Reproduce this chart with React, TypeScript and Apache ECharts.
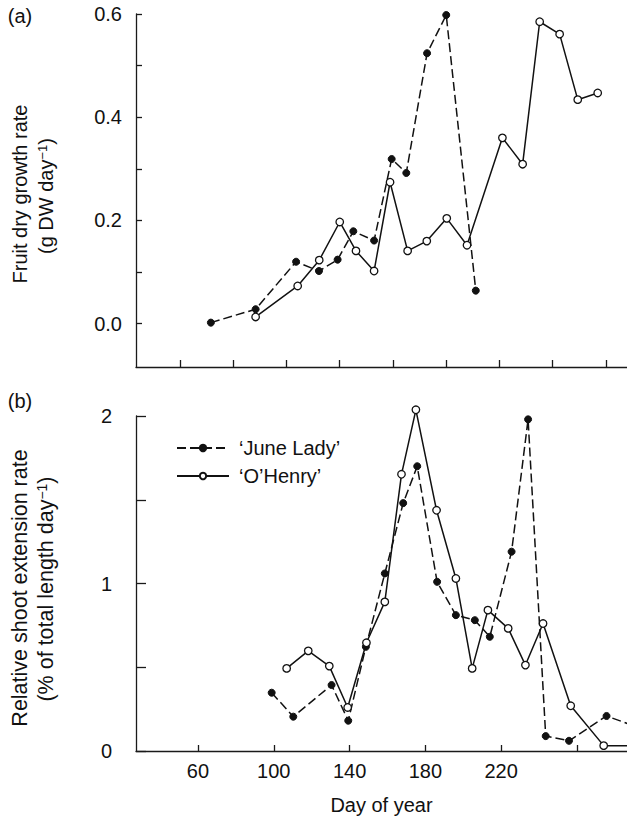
import React, { useEffect, useRef } from 'react';
import * as echarts from 'echarts';

const FONT = '"Liberation Sans", Arial, Helvetica, sans-serif';

// Panel (a): fruit dry growth rate (g DW day-1)
const topDaysJune = [71.6, 88.4, 103.6, 112.2, 119.2, 125.1, 132.9, 139.5, 145.0, 152.8, 160.0, 171.1];
const topRateJune = [0.002, 0.028, 0.12, 0.102, 0.124, 0.179, 0.161, 0.319, 0.292, 0.524, 0.598, 0.064];
const topDaysOHenry = [88.4, 104.2, 112.3, 120.0, 126.1, 132.9, 138.9, 145.5, 152.7, 160.2, 167.8, 181.1, 188.7, 195.1, 202.6, 209.4, 216.9];
const topRateOHenry = [0.013, 0.073, 0.123, 0.197, 0.141, 0.102, 0.274, 0.141, 0.16, 0.204, 0.152, 0.36, 0.309, 0.585, 0.561, 0.434, 0.447];

// Panel (b): relative shoot extension rate (% of total length day-1)
const botDaysJune = [98.9, 110.3, 130.5, 139.3, 148.6, 158.6, 168.3, 175.7, 186.2, 196.1, 206.1, 214.0, 225.5, 234.2, 243.5, 255.8, 275.6, 290];
const botRateJune = [0.348, 0.205, 0.394, 0.181, 0.622, 1.06, 1.48, 1.7, 1.01, 0.811, 0.781, 0.682, 1.19, 1.98, 0.089, 0.061, 0.209, 0.15];
const botDaysOHenry = [106.8, 118.2, 129.3, 139.0, 148.9, 158.6, 167.4, 175.0, 185.9, 196.1, 204.7, 213.0, 223.7, 232.8, 242.1, 256.7, 274.1, 290];
const botRateOHenry = [0.493, 0.598, 0.507, 0.26, 0.646, 0.89, 1.652, 2.037, 1.437, 1.03, 0.493, 0.841, 0.732, 0.513, 0.761, 0.27, 0.032, 0.032];

// Ticks
const topXTicks = [60, 80, 100, 120, 140, 160, 180, 200, 220];
const topYTicks = [0, 0.1, 0.2, 0.3, 0.4, 0.5, 0.6];
const topYLabels = [0, 0.2, 0.4, 0.6];
const botXTicks = [60, 100, 140, 180, 220, 260];
const botXLabels = [60, 100, 140, 180, 220];
const botYTicks = [0, 0.5, 1, 1.5, 2];
const botYLabels = [0, 1, 2];

const NAME_JUNE = '\u2018June Lady\u2019';
const NAME_OH = '\u2018O\u2019Henry\u2019';

const zip = (xs: number[], ys: number[]) => xs.map((x, i) => [x, ys[i]]);

export default function App() {
  const ref = useRef<HTMLDivElement>(null);
  useEffect(() => {
    document.body.style.margin = '0';
    const chart = echarts.init(ref.current!, null, { renderer: 'svg' });
    const axisColor = '#1a1a1a';
    const lbl = { fontFamily: FONT, fontSize: 20, color: '#111' };
    const dashed = { color: '#111', width: 1.5, type: [9, 4] as any };
    const solid = { color: '#111', width: 1.5, type: 'solid' as any };
    const filled = { color: '#111', borderColor: '#111', borderWidth: 1 };
    const open = { color: '#fff', borderColor: '#111', borderWidth: 1.3 };

    const option: any = {
      animation: false,
      backgroundColor: '#fff',
      grid: [
        { left: 136, right: 0, top: 14, height: 353, outerBoundsMode: 'none' },
        { left: 136, right: 0, top: 416, height: 335, outerBoundsMode: 'none' },
      ],
      xAxis: [
        {
          type: 'value', gridIndex: 0, min: 43.47, max: 227.9,
          axisLine: { show: true, onZero: false, lineStyle: { color: axisColor, width: 1.3 } },
          axisTick: { show: true, inside: true, length: 7, customValues: topXTicks, lineStyle: { color: axisColor, width: 1.3 } },
          axisLabel: { show: false },
          splitLine: { show: false },
        },
        {
          type: 'value', gridIndex: 1, min: 27.3, max: 286.4,
          axisLine: { show: true, onZero: false, lineStyle: { color: axisColor, width: 1.3 } },
          axisTick: { show: true, inside: true, length: 6, customValues: botXTicks, lineStyle: { color: axisColor, width: 1.3 } },
          axisLabel: { ...lbl, margin: 10, customValues: botXLabels },
          splitLine: { show: false },
          name: 'Day of year', nameLocation: 'middle', nameGap: 44,
          nameTextStyle: { fontFamily: FONT, fontSize: 20, color: '#111' },
        },
      ],
      yAxis: [
        {
          type: 'value', gridIndex: 0, min: -0.084, max: 0.6,
          axisLine: { show: true, onZero: false, lineStyle: { color: axisColor, width: 1.3 } },
          axisTick: { show: true, inside: true, length: 6, customValues: topYTicks, lineStyle: { color: axisColor, width: 1.3 } },
          axisLabel: { ...lbl, margin: 14, customValues: topYLabels, formatter: (v: number) => v.toFixed(1) },
          splitLine: { show: false },
        },
        {
          type: 'value', gridIndex: 1, min: 0, max: 2,
          axisLine: { show: true, onZero: false, lineStyle: { color: axisColor, width: 1.3 } },
          axisTick: { show: true, inside: true, length: 10, customValues: botYTicks, lineStyle: { color: axisColor, width: 1.3 } },
          axisLabel: { ...lbl, margin: 24, customValues: botYLabels, formatter: (v: number) => String(v) },
          splitLine: { show: false },
        },
      ],
      legend: {
        orient: 'vertical', left: 171, top: 433,
        itemWidth: 52, itemHeight: 8, itemGap: 8,
        data: [NAME_JUNE, NAME_OH],
        textStyle: { fontFamily: FONT, fontSize: 20, color: '#111', lineHeight: 20, padding: [0, 0, 0, 5] },
      },
      series: [
        {
          name: NAME_JUNE, type: 'line', xAxisIndex: 0, yAxisIndex: 0, data: zip(topDaysJune, topRateJune),
          symbol: 'circle', symbolSize: 7, lineStyle: dashed, itemStyle: filled, clip: false, z: 2,
        },
        {
          name: NAME_OH, type: 'line', xAxisIndex: 0, yAxisIndex: 0, data: zip(topDaysOHenry, topRateOHenry),
          symbol: 'circle', symbolSize: 7.5, lineStyle: solid, itemStyle: open, clip: false, z: 3,
        },
        {
          name: NAME_JUNE, type: 'line', xAxisIndex: 1, yAxisIndex: 1, data: zip(botDaysJune, botRateJune),
          symbol: 'circle', symbolSize: 7, lineStyle: dashed, itemStyle: filled, clip: false, z: 2,
        },
        {
          name: NAME_OH, type: 'line', xAxisIndex: 1, yAxisIndex: 1, data: zip(botDaysOHenry, botRateOHenry),
          symbol: 'circle', symbolSize: 7.5, lineStyle: solid, itemStyle: open, clip: false, z: 3,
        },
      ],
      graphic: [
        { type: 'text', x: 20, y: 16, style: { text: '(a)', fontFamily: FONT, fontSize: 20, fill: '#111', align: 'center', verticalAlign: 'middle' } },
        { type: 'text', x: 20, y: 401, style: { text: '(b)', fontFamily: FONT, fontSize: 20, fill: '#111', align: 'center', verticalAlign: 'middle' } },
        { type: 'text', x: 20, y: 194, rotation: Math.PI / 2, style: { text: 'Fruit dry growth rate', fontFamily: FONT, fontSize: 20, fill: '#111', align: 'center', verticalAlign: 'middle' } },
        {
          type: 'text', x: 46, y: 196, rotation: Math.PI / 2,
          style: {
            text: '(g DW day{sup|\u22121})', fontFamily: FONT, fontSize: 20, fill: '#111', align: 'center', verticalAlign: 'middle',
            rich: { sup: { fontFamily: FONT, fontSize: 13, fill: '#111', verticalAlign: 'top', lineHeight: 20 } },
          },
        },
        { type: 'text', x: 20, y: 588, rotation: Math.PI / 2, style: { text: 'Relative shoot extension rate', fontFamily: FONT, fontSize: 21.5, fill: '#111', align: 'center', verticalAlign: 'middle' } },
        {
          type: 'text', x: 46, y: 589, rotation: Math.PI / 2,
          style: {
            text: '(% of total length day{sup|\u22121})', fontFamily: FONT, fontSize: 21.5, fill: '#111', align: 'center', verticalAlign: 'middle',
            rich: { sup: { fontFamily: FONT, fontSize: 14, fill: '#111', verticalAlign: 'top', lineHeight: 21 } },
          },
        },
      ],
    };
    chart.setOption(option);
    return () => chart.dispose();
  }, []);
  return <div ref={ref} style={{ width: 627, height: 819 }} />;
}
